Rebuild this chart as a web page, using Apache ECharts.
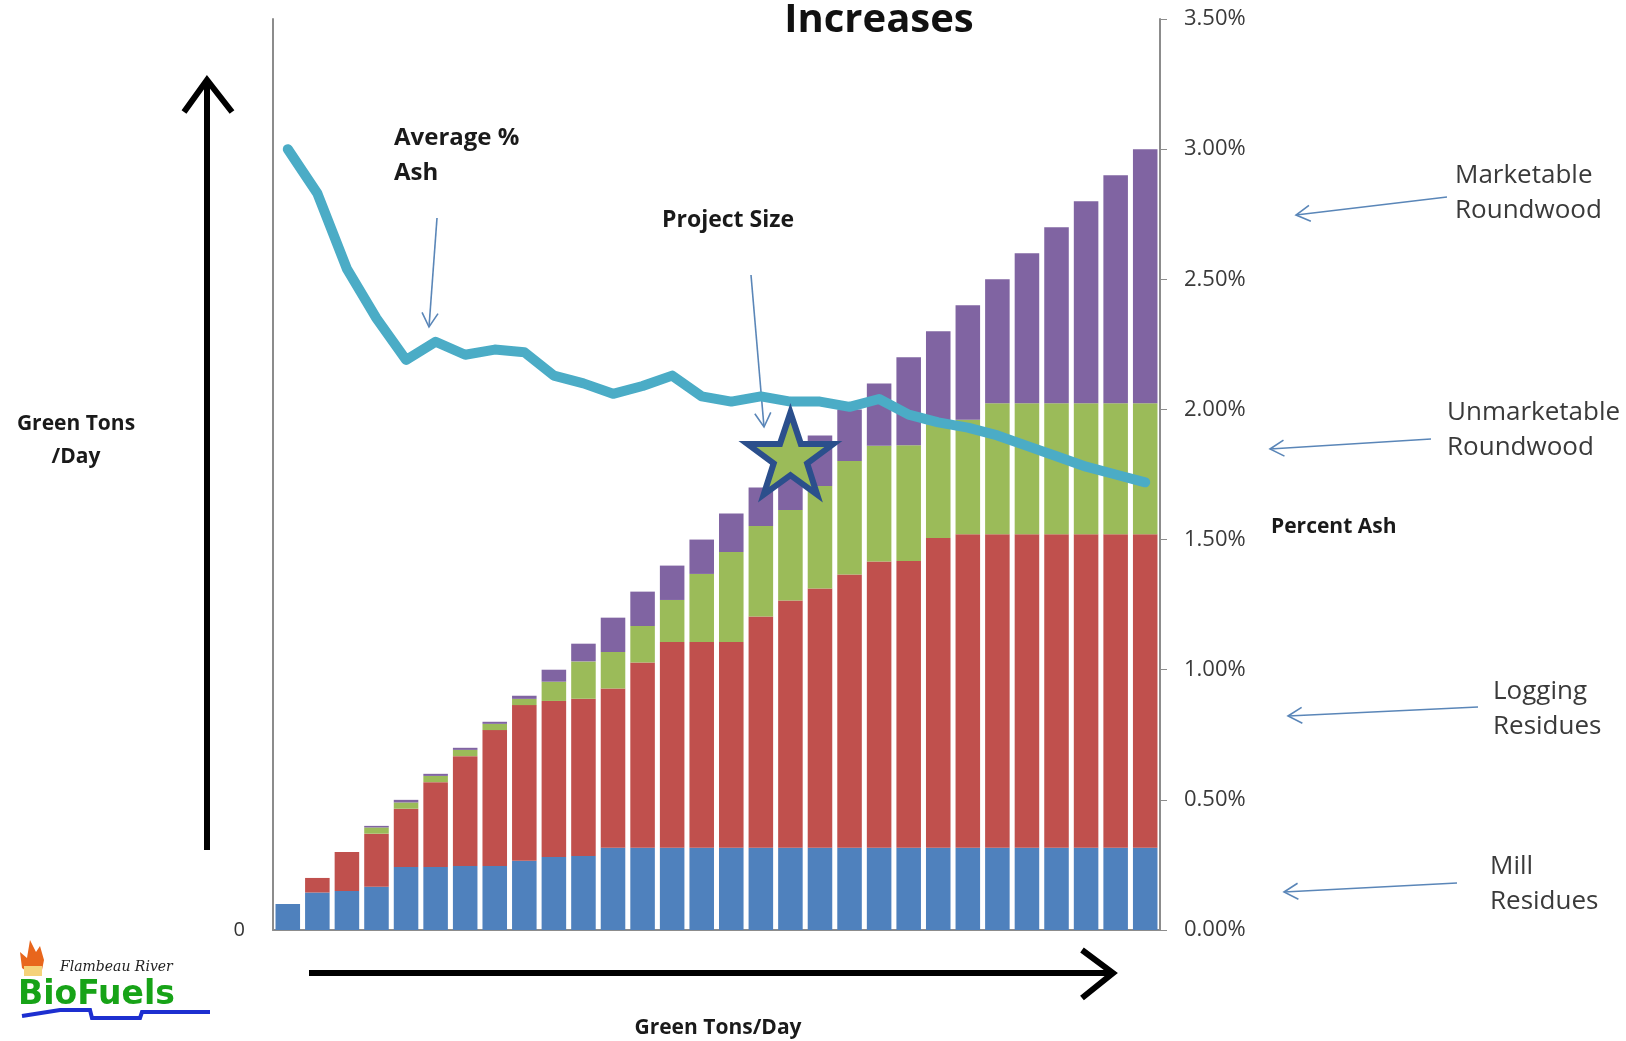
<!DOCTYPE html>
<html>
<head>
<meta charset="utf-8">
<script src="https://cdn.jsdelivr.net/npm/echarts@6/dist/echarts.min.js"></script>
<style>
html,body{margin:0;padding:0;background:#fff;}
#chart{width:1626px;height:1041px;}
</style>
</head>
<body>
<div id="chart"></div>
<script>
// ---- data (green tons/day per supply tier, and average % ash) ----
const categories = ['1','2','3','4','5','6','7','8','9','10','11','12','13','14','15','16','17','18','19','20','21','22','23','24','25','26','27','28','29','30'];
const millResidues = [50,72,75,83,121,121,123,123,133,140,142,158,158,158,158,158,158,158,158,158,158,158,158,158,158,158,158,158,158,158];
const loggingResidues = [0,28,75,102,112,163,211,261,299,300,302,306,356,395,395,395,444,475,498,525,550,551,595,602,602,602,602,602,602,602];
const unmarketableRoundwood = [0,0,0,12,12,12,12,12,12,37,72,70,70,81,131,173,174,174,197,218,222,222,218,220,252,252,252,252,252,252];
const marketableRoundwood = [0,0,0,3,5,4,4,4,6,23,34,66,66,66,66,74,74,93,97,99,120,169,179,220,238,288,338,388,438,488];
const averageAshPct = [3.00,2.83,2.54,2.35,2.19,2.26,2.21,2.23,2.22,2.13,2.10,2.06,2.09,2.13,2.05,2.03,2.05,2.03,2.03,2.01,2.04,1.98,1.95,1.93,1.90,1.86,1.82,1.78,1.75,1.72];
const projectSize = [17, 1.83]; // category index, % ash position of the star
const ashTicks = [0,0.5,1,1.5,2,2.5,3,3.5];

const chart = echarts.init(document.getElementById('chart'));
const starPath = 'path://M50,0 L61.8,35.1 L98.6,35.1 L68.9,56.9 L80.2,91.9 L50,70.1 L19.8,91.9 L31.1,56.9 L1.4,35.1 L38.2,35.1 Z';
const F = '"Open Sans", "DejaVu Sans", sans-serif';
const blueArrow = {stroke:'#5a86b8', lineWidth:1.6};

function arrowLeft(x1,y1,x2,y2){ // line from (x1,y1) to tip (x2,y2) with open head
  const dx=x1-x2, dy=y1-y2, L=Math.hypot(dx,dy), ux=dx/L, uy=dy/L, h=14, w=8;
  return [
    {type:'line', shape:{x1:x1,y1:y1,x2:x2,y2:y2}, style:blueArrow, silent:true},
    {type:'polyline', shape:{points:[[x2+ux*h-uy*w, y2+uy*h+ux*w],[x2,y2],[x2+ux*h+uy*w, y2+uy*h-ux*w]]}, style:Object.assign({fill:null},blueArrow), silent:true}
  ];
}

const graphics = [
  {type:'text', style:{text:'Increases', x:879, y:21, textAlign:'center', textVerticalAlign:'middle', font:'bold 40px "Open Sans", sans-serif', fill:'#111'}, silent:true},
  // big black arrows
  {type:'line', shape:{x1:207,y1:850,x2:207,y2:80}, style:{stroke:'#000',lineWidth:6}},
  {type:'polyline', shape:{points:[[184,112],[207,80],[232,112]]}, style:{stroke:'#000',lineWidth:6,fill:null,lineJoin:'miter'}},
  {type:'line', shape:{x1:309,y1:973,x2:1112,y2:973}, style:{stroke:'#000',lineWidth:6}},
  {type:'polyline', shape:{points:[[1082,950],[1113,973],[1082,998]]}, style:{stroke:'#000',lineWidth:6,fill:null,lineJoin:'miter'}},
  // annotation texts
  {type:'text', style:{text:'Average %\nAsh', x:394, y:121, font:'bold 24px '+F, fill:'#1a1a1a', lineHeight:35}},
  {type:'text', style:{text:'Project Size', x:662, y:209, font:'bold 23px '+F, fill:'#1a1a1a'}},
  {type:'text', style:{text:'Marketable\nRoundwood', x:1455, y:158, font:'26px '+F, fill:'#3a3a3a', lineHeight:35}},
  {type:'text', style:{text:'Unmarketable\nRoundwood', x:1447, y:395, font:'26px '+F, fill:'#3a3a3a', lineHeight:35}},
  {type:'text', style:{text:'Percent Ash', x:1271, y:517, font:'bold 21px '+F, fill:'#1a1a1a'}},
  {type:'text', style:{text:'Logging\nResidues', x:1493, y:674, font:'26px '+F, fill:'#3a3a3a', lineHeight:35}},
  {type:'text', style:{text:'Mill\nResidues', x:1490, y:849, font:'26px '+F, fill:'#3a3a3a', lineHeight:35}},
  {type:'text', style:{text:'Green Tons\n/Day', x:76, y:408, font:'bold 21px '+F, fill:'#1a1a1a', lineHeight:33, textAlign:'center'}},
  {type:'text', style:{text:'Green Tons/Day', x:718, y:1018, font:'bold 21px '+F, fill:'#1a1a1a', textAlign:'center'}},
  // logo
  {type:'polygon', shape:{points:[[22,968],[20,952],[27,958],[30,940],[36,952],[40,946],[44,960],[42,970],[30,974]]}, style:{fill:'#e8661c'}},
  {type:'rect', shape:{x:24,y:966,width:18,height:10}, style:{fill:'#f5d27a'}},
  {type:'text', style:{text:'Flambeau River', x:60, y:960, font:'italic 14px "DejaVu Serif", serif', fill:'#222'}},
  {type:'text', style:{text:'BioFuels', x:18, y:979, font:'bold 33px "DejaVu Sans", sans-serif', fill:'#17a317'}},
  {type:'polyline', shape:{points:[[22,1016],[60,1010],[90,1010],[92,1018],[140,1018],[142,1012],[210,1012]]}, style:{stroke:'#1d2fd0',lineWidth:4,fill:null}}
];
[[1447,197,1296,215],[1431,439,1270,449],[1478,707,1288,716],[1457,883,1284,892],[437,218,429,327],[751,275,764,427]].forEach(a=>{
  arrowLeft(a[0],a[1],a[2],a[3]).forEach(g=>graphics.push(g));
});

const barCommon = {type:'bar', stack:'total', barCategoryGap:'17%', yAxisIndex:0};
chart.setOption({
  animation:false,
  backgroundColor:'#fff',
  grid:{left:273, right:466, top:19, bottom:111, containLabel:false},
  xAxis:{type:'category', data:categories, boundaryGap:true,
    axisLine:{show:true, lineStyle:{color:'#8c8c8c', width:2}}, axisTick:{show:false}, axisLabel:{show:false}, splitLine:{show:false}},
  yAxis:[
    {type:'value', min:0, max:1750, interval:1750, position:'left',
      axisLine:{show:true, lineStyle:{color:'#8c8c8c', width:2}}, axisTick:{show:false}, splitLine:{show:false},
      axisLabel:{margin:28, fontSize:20, color:'#333', fontFamily:F, formatter:v=>v===0?'0':''}},
    {type:'value', min:0, max:3.5, interval:0.5, position:'right',
      axisLine:{show:true, lineStyle:{color:'#8c8c8c', width:2}}, axisTick:{show:true, length:7, lineStyle:{color:'#8c8c8c'}}, splitLine:{show:false},
      axisLabel:{margin:24, fontSize:22, color:'#3a3a3a', fontFamily:F, formatter:v=>v.toFixed(2)+'%'}}
  ],
  series:[
    Object.assign({name:'Mill Residues', data:millResidues, itemStyle:{color:'#4f81bd'}}, barCommon),
    Object.assign({name:'Logging Residues', data:loggingResidues, itemStyle:{color:'#c0504d'}}, barCommon),
    Object.assign({name:'Unmarketable Roundwood', data:unmarketableRoundwood, itemStyle:{color:'#9bbb59'}}, barCommon),
    Object.assign({name:'Marketable Roundwood', data:marketableRoundwood, itemStyle:{color:'#8064a2'}}, barCommon),
    {name:'Average % Ash', type:'line', yAxisIndex:1, data:averageAshPct, symbol:'none', z:5,
      lineStyle:{color:'#4bacc6', width:10, cap:'round', join:'round'}},
    {name:'Project Size', type:'scatter', yAxisIndex:1, data:[projectSize], symbol:starPath, symbolSize:[86,82], z:6,
      itemStyle:{color:'#9bbb59', borderColor:'#2b4f8c', borderWidth:6, opacity:1}}
  ],
  graphic:graphics
});
</script>
</body>
</html>
